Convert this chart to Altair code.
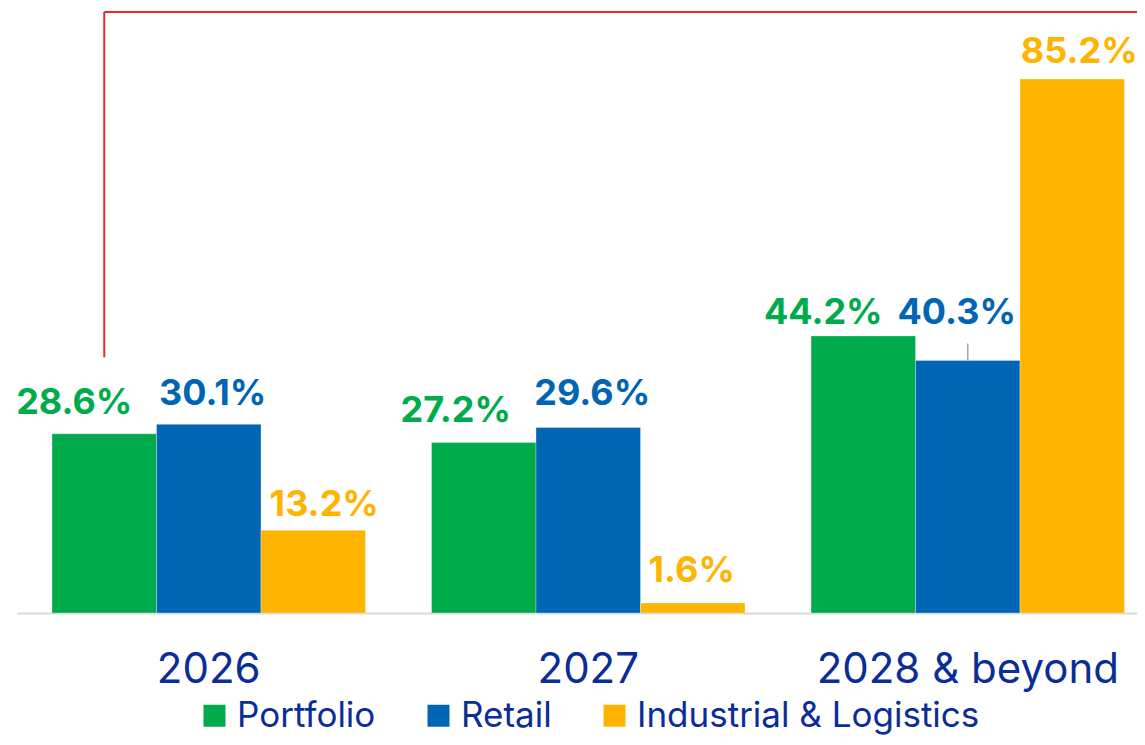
import altair as alt
import pandas as pd

# ---- data ----
categories = ["2026", "2027", "2028 & beyond"]
series = ["Portfolio", "Retail", "Industrial & Logistics"]
portfolio = [28.6, 27.2, 44.2]
retail = [30.1, 29.6, 40.3]
industrial = [13.2, 1.6, 85.2]
labels_portfolio = ["28.6%", "27.2%", "44.2%"]
labels_retail = ["30.1%", "29.6%", "40.3%"]
labels_industrial = ["13.2%", "1.6%", "85.2%"]

# annotation: red bracket starts above the 2026 Portfolio bar at this level
bracket_level = [40.8]
# leader line for the 40.3% label (from bar top to label)
leader_from = [40.3]
leader_to = [43.0]

# ---- styles / layout ----
colors = ["#00AB4C", "#0066B3", "#FFB400"]
navy = "#0B2D97"
red = "#F0252F"
W, H = 1120, 601

# per-label nudges (pixels): horizontal shift, gap above bar
label_dx = {
    ("2026", "Portfolio"): -30, ("2026", "Retail"): 4, ("2026", "Industrial & Logistics"): 11,
    ("2027", "Portfolio"): -28, ("2027", "Retail"): 4, ("2027", "Industrial & Logistics"): -1,
    ("2028 & beyond", "Portfolio"): -40, ("2028 & beyond", "Retail"): -11,
    ("2028 & beyond", "Industrial & Logistics"): 7,
}
label_gap = {
    ("2026", "Portfolio"): 20, ("2026", "Retail"): 19, ("2026", "Industrial & Logistics"): 14,
    ("2027", "Portfolio"): 21, ("2027", "Retail"): 22, ("2027", "Industrial & Logistics"): 21,
    ("2028 & beyond", "Portfolio"): 12, ("2028 & beyond", "Retail"): 36,
    ("2028 & beyond", "Industrial & Logistics"): 16,
}

rows = []
for vals, labs, s in [(portfolio, labels_portfolio, series[0]),
                      (retail, labels_retail, series[1]),
                      (industrial, labels_industrial, series[2])]:
    for c, v, l in zip(categories, vals, labs):
        rows.append({"category": c, "series": s, "value": v, "label": l})
df = pd.DataFrame(rows)

x_enc = alt.X(
    "category:N",
    sort=categories,
    scale=alt.Scale(domain=categories, paddingInner=0.174, paddingOuter=0.0626, align=0.737),
    axis=alt.Axis(
        title=None,
        labelAngle=0,
        labelFont="Inter",
        labelFontSize=42,
        labelColor=navy,
        labelLimit=600,
        ticks=False,
        tickSize=0,
        domainColor="#D9D9D9",
        domainWidth=2,
        labelPadding=69,
        labelBaseline="alphabetic",
    ),
)
xo_enc = alt.XOffset("series:N", sort=series,
                     scale=alt.Scale(domain=series, paddingInner=0, paddingOuter=0))
y_scale = alt.Scale(domain=[0, 95.9], nice=False, zero=True)

bars = alt.Chart(df).mark_bar(stroke="white", strokeWidth=0.5, strokeOpacity=0.6).encode(
    x=x_enc,
    xOffset=xo_enc,
    y=alt.Y("value:Q", scale=y_scale, axis=None),
    color=alt.Color(
        "series:N",
        sort=series,
        scale=alt.Scale(domain=series, range=colors),
        legend=alt.Legend(
            title=None,
            orient="none",
            legendX=180,
            legendY=686,
            direction="horizontal",
            columns=3,
            symbolType="square",
            symbolSize=484,
            symbolStrokeWidth=0,
            symbolOpacity=1,
            labelFont="Inter",
            labelFontSize=35,
            labelColor=navy,
            labelOffset=5,
            columnPadding=45,
            padding=0,
            labelLimit=600,
        ),
    ),
)

layers = [bars]
for i, s in enumerate(series):
    for c in categories:
        t = alt.Chart(df).transform_filter(
            (alt.datum.category == c) & (alt.datum.series == s)
        ).mark_text(
            font="Inter",
            fontWeight="bold",
            fontSize=36,
            color=colors[i],
            baseline="alphabetic",
            align="center",
            dx=label_dx[(c, s)],
            dy=-label_gap[(c, s)],
        ).encode(
            x=alt.X("category:N", sort=categories, scale=alt.Scale(domain=categories)),
            xOffset=alt.XOffset("series:N", sort=series, scale=alt.Scale(domain=series)),
            y=alt.Y("value:Q", scale=y_scale),
            text="label:N",
        )
        layers.append(t)

bracket_df = pd.DataFrame({"category": [categories[0]], "series": [series[0]],
                           "level": bracket_level})
red_v = alt.Chart(bracket_df).mark_rule(color=red, strokeWidth=2).encode(
    x=alt.X("category:N", sort=categories, scale=alt.Scale(domain=categories)),
    xOffset=alt.XOffset("series:N", sort=series, scale=alt.Scale(domain=series)),
    y=alt.Y("level:Q", scale=y_scale),
    y2=alt.value(0),
)
red_h = alt.Chart(bracket_df).mark_rule(color=red, strokeWidth=2).encode(
    x=alt.X("category:N", sort=categories, scale=alt.Scale(domain=categories)),
    xOffset=alt.XOffset("series:N", sort=series, scale=alt.Scale(domain=series)),
    x2=alt.value(W),
    y=alt.value(0),
)

leader_df = pd.DataFrame({"category": [categories[2]], "series": [series[1]],
                          "y0": leader_from, "y1": leader_to})
leader = alt.Chart(leader_df).mark_rule(color="#A6A6A6", strokeWidth=1.5).encode(
    x=alt.X("category:N", sort=categories, scale=alt.Scale(domain=categories)),
    xOffset=alt.XOffset("series:N", sort=series, scale=alt.Scale(domain=series)),
    y=alt.Y("y0:Q", scale=y_scale),
    y2="y1:Q",
)

chart = alt.layer(*layers, red_v, red_h, leader).properties(
    width=W,
    height=H,
    autosize=alt.AutoSizeParams(type="none"),
    padding={"left": 9, "top": 4, "right": 0, "bottom": 124},
).configure_view(stroke=None)

chart.save("out.html", embed_options={"renderer": "svg", "actions": False})
